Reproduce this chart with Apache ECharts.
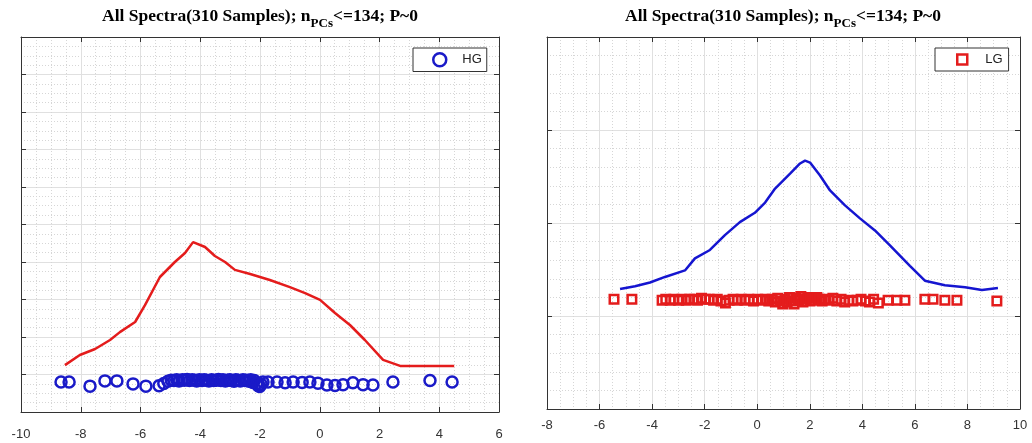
<!DOCTYPE html>
<html>
<head>
<meta charset="utf-8">
<script src="https://cdn.jsdelivr.net/npm/echarts@6/dist/echarts.min.js"></script>
<style>
html,body{margin:0;padding:0;background:#fff;}
#c{width:1032px;height:443px;}
</style>
</head>
<body>
<div id="c"></div>
<script>
// ---------- data ----------
var titleMain = 'All Spectra(310 Samples); n';
var titleSub = 'PCs';
var titleEnd = '<=134; P~0';

var leftXTicks = [-10, -8, -6, -4, -2, 0, 2, 4, 6];
var rightXTicks = [-8, -6, -4, -2, 0, 2, 4, 6, 8, 10];

// left panel: HG samples (circles) and red density curve
var hgX = [-8.66, -8.39, -7.69, -7.19, -6.79, -6.25, -5.82, -5.38, -5.22, -5.08, -4.97, -4.88, -4.79, -4.71, -4.6, -4.53, -4.44, -4.36, -4.27, -4.18, -4.12, -4.03, -3.94, -3.87, -3.79, -3.71, -3.62, -3.55, -3.46, -3.39, -3.31, -3.24, -3.16, -3.09, -3.01, -2.96, -2.87, -2.81, -2.73, -2.66, -2.57, -2.51, -2.44, -2.37, -2.31, -2.24, -2.19, -2.11, -2.06, -2.01, -1.96, -1.9, -1.73, -1.43, -1.16, -0.89, -0.59, -0.33, -0.06, 0.24, 0.51, 0.78, 1.11, 1.45, 1.78, 2.45, 3.69, 4.43];
var hgY = [0.80, 0.80, 0.69, 0.83, 0.83, 0.75, 0.69, 0.70, 0.76, 0.82, 0.85, 0.84, 0.86, 0.83, 0.86, 0.85, 0.87, 0.84, 0.86, 0.85, 0.83, 0.86, 0.84, 0.86, 0.85, 0.83, 0.86, 0.84, 0.85, 0.87, 0.84, 0.86, 0.83, 0.85, 0.86, 0.84, 0.82, 0.86, 0.85, 0.83, 0.86, 0.84, 0.85, 0.82, 0.86, 0.79, 0.84, 0.76, 0.70, 0.68, 0.74, 0.80, 0.80, 0.80, 0.78, 0.80, 0.79, 0.80, 0.77, 0.72, 0.71, 0.73, 0.78, 0.73, 0.72, 0.80, 0.84, 0.80];
var hgCurveX = [-8.53, -8.03, -7.52, -7.02, -6.69, -6.18, -5.85, -5.35, -4.85, -4.51, -4.24, -3.84, -3.51, -3.17, -2.84, -2.33, -1.67, -1.0, -0.49, 0.01, 0.51, 1.01, 1.51, 2.12, 2.69, 4.5];
var hgCurveY = [1.25, 1.52, 1.68, 1.92, 2.13, 2.40, 2.85, 3.60, 4.00, 4.24, 4.53, 4.40, 4.16, 4.00, 3.79, 3.68, 3.52, 3.33, 3.17, 2.99, 2.64, 2.32, 1.92, 1.39, 1.23, 1.23];

// right panel: LG samples (squares) and blue density curve
var lgX = [-5.45, -4.77, -3.62, -3.48, -3.31, -3.17, -2.99, -2.86, -2.7, -2.57, -2.41, -2.27, -2.12, -1.97, -1.83, -1.66, -1.52, -1.38, -1.21, -1.07, -0.92, -0.76, -0.61, -0.47, -0.32, -0.14, 0.02, 0.16, 0.31, 0.44, 0.57, 0.69, 0.78, 0.88, 0.97, 1.06, 1.14, 1.23, 1.31, 1.4, 1.48, 1.57, 1.66, 1.74, 1.83, 1.92, 2.01, 2.09, 2.18, 2.27, 2.36, 2.47, 2.6, 2.74, 2.88, 3.03, 3.19, 3.33, 3.49, 3.64, 3.8, 3.95, 4.12, 4.27, 4.43, 4.61, 4.98, 5.32, 5.62, 6.38, 6.69, 7.14, 7.6, 9.12];
var lgY = [1.18, 1.18, 1.17, 1.18, 1.17, 1.18, 1.17, 1.18, 1.17, 1.18, 1.18, 1.17, 1.19, 1.18, 1.18, 1.17, 1.18, 1.16, 1.14, 1.17, 1.18, 1.17, 1.18, 1.17, 1.18, 1.16, 1.18, 1.17, 1.18, 1.16, 1.18, 1.15, 1.19, 1.16, 1.13, 1.18, 1.15, 1.20, 1.16, 1.13, 1.19, 1.17, 1.21, 1.15, 1.18, 1.20, 1.16, 1.19, 1.17, 1.20, 1.18, 1.16, 1.18, 1.17, 1.19, 1.16, 1.18, 1.15, 1.17, 1.16, 1.17, 1.18, 1.16, 1.15, 1.18, 1.14, 1.17, 1.17, 1.17, 1.18, 1.18, 1.17, 1.17, 1.16];
var lgCurveX = [-5.22, -4.65, -4.08, -3.51, -2.75, -2.37, -1.80, -1.23, -0.66, -0.09, 0.30, 0.68, 1.25, 1.63, 1.82, 2.01, 2.39, 2.77, 3.34, 3.91, 4.48, 5.05, 5.81, 6.38, 7.14, 7.91, 8.55, 9.16];
var lgCurveY = [1.29, 1.32, 1.36, 1.42, 1.49, 1.62, 1.71, 1.87, 2.01, 2.11, 2.22, 2.37, 2.53, 2.64, 2.67, 2.65, 2.51, 2.35, 2.19, 2.05, 1.92, 1.76, 1.54, 1.38, 1.33, 1.31, 1.28, 1.30];

// ---------- build ----------
function pairs(xs, ys) { return xs.map(function (x, i) { return [x, ys[i]]; }); }

var BLUE = '#1a1ac8';
var RED = '#e41c1c';
var FRAME = '#333333';
var labelFont = 'Liberation Sans';

function mainX(grid, ticks, margin) {
  return {
    type: 'value', gridIndex: grid, position: 'bottom',
    min: ticks[0], max: ticks[ticks.length - 1], interval: 2,
    axisLine: { show: true, onZero: false, lineStyle: { color: FRAME, width: 1 } },
    axisTick: { show: true, inside: true, length: 5, lineStyle: { color: FRAME } },
    axisLabel: { show: true, margin: margin, color: '#333', fontSize: 13, fontFamily: labelFont },
    splitLine: { show: true, lineStyle: { color: '#e0e0e0', width: 1 } },
    minorTick: { show: false, splitNumber: 4 },
    minorSplitLine: { show: true, lineStyle: { color: '#d6d6d6', type: [1, 2], width: 1 } }
  };
}
function topX(grid, ticks) {
  return {
    type: 'value', gridIndex: grid, position: 'top',
    min: ticks[0], max: ticks[ticks.length - 1], interval: 2,
    axisLine: { show: true, onZero: false, lineStyle: { color: FRAME, width: 1 } },
    axisTick: { show: true, inside: true, length: 5, lineStyle: { color: FRAME } },
    axisLabel: { show: false }, splitLine: { show: false }
  };
}
function mainY(grid, max, minorN) {
  return {
    type: 'value', gridIndex: grid, position: 'left',
    min: 0, max: max, interval: 1,
    axisLine: { show: true, onZero: false, lineStyle: { color: FRAME, width: 1 } },
    axisTick: { show: true, inside: true, length: 5, lineStyle: { color: FRAME } },
    axisLabel: { show: false },
    splitLine: { show: true, lineStyle: { color: '#e0e0e0', width: 1 } },
    minorTick: { show: false, splitNumber: minorN },
    minorSplitLine: { show: true, lineStyle: { color: '#d6d6d6', type: [1, 2], width: 1 } }
  };
}
function rightY(grid, max) {
  return {
    type: 'value', gridIndex: grid, position: 'right',
    min: 0, max: max, interval: 1,
    axisLine: { show: true, onZero: false, lineStyle: { color: FRAME, width: 1 } },
    axisTick: { show: true, inside: true, length: 5, lineStyle: { color: FRAME } },
    axisLabel: { show: false }, splitLine: { show: false }
  };
}

var titleRich = {
  a: { fontFamily: 'Liberation Serif', fontWeight: 'bold', fontSize: 17.5, color: '#111', lineHeight: 20, verticalAlign: 'top' },
  s: { fontFamily: 'Liberation Serif', fontWeight: 'bold', fontSize: 13, color: '#111', lineHeight: 15, padding: [10, 0, 0, 0], verticalAlign: 'top' }
};
var titleText = '{a|' + titleMain + '}{s|' + titleSub + '}{a|' + titleEnd + '}';

var option = {
  animation: false,
  backgroundColor: '#ffffff',
  grid: [
    { left: 21, top: 37, width: 478, height: 375 },
    { left: 547, top: 37, width: 473, height: 372 }
  ],
  xAxis: [mainX(0, leftXTicks, 16), topX(0, leftXTicks), mainX(1, rightXTicks, 10), topX(1, rightXTicks)],
  yAxis: [mainY(0, 10, 4), rightY(0, 10), mainY(1, 4, 5), rightY(1, 4)],
  graphic: [
    { type: 'text', x: 260, y: 7, style: { text: titleText, rich: titleRich, align: 'center' } },
    { type: 'text', x: 783, y: 7, style: { text: titleText, rich: titleRich, align: 'center' } }
  ],
  legend: [
    {
      left: 413, top: 48, orient: 'vertical',
      backgroundColor: '#fff', borderColor: FRAME, borderWidth: 1, borderRadius: 0,
      padding: [4, 5, 4, 19], itemWidth: 13, itemHeight: 13,
      textStyle: { fontFamily: labelFont, fontSize: 13, color: '#222', padding: [0, 0, 0, 11] },
      data: [{ name: 'HG', icon: 'circle', itemStyle: { color: 'rgba(0,0,0,0)', borderColor: BLUE, borderWidth: 2.5 } }]
    },
    {
      left: 935, top: 48, orient: 'vertical',
      backgroundColor: '#fff', borderColor: FRAME, borderWidth: 1, borderRadius: 0,
      padding: [5, 6, 5, 21], itemWidth: 10, itemHeight: 10,
      textStyle: { fontFamily: labelFont, fontSize: 13, color: '#222', padding: [0, 0, 0, 13] },
      data: [{ name: 'LG', icon: 'rect', itemStyle: { color: 'rgba(0,0,0,0)', borderColor: RED, borderWidth: 2.5 } }]
    }
  ],
  series: [
    {
      name: 'HG curve', type: 'line', xAxisIndex: 0, yAxisIndex: 0,
      data: pairs(hgCurveX, hgCurveY), showSymbol: false, symbol: 'none',
      lineStyle: { color: RED, width: 2.5 }, itemStyle: { color: RED }, z: 3
    },
    {
      name: 'HG', type: 'scatter', xAxisIndex: 0, yAxisIndex: 0,
      data: pairs(hgX, hgY), symbol: 'circle', symbolSize: 11,
      itemStyle: { color: 'rgba(0,0,0,0)', borderColor: BLUE, borderWidth: 2.5, opacity: 1 }, z: 4
    },
    {
      name: 'LG curve', type: 'line', xAxisIndex: 2, yAxisIndex: 2,
      data: pairs(lgCurveX, lgCurveY), showSymbol: false, symbol: 'none',
      lineStyle: { color: '#1515d0', width: 2.5 }, itemStyle: { color: '#1515d0' }, z: 3
    },
    {
      name: 'LG', type: 'scatter', xAxisIndex: 2, yAxisIndex: 2,
      data: pairs(lgX, lgY), symbol: 'rect', symbolSize: 8.5,
      itemStyle: { color: 'rgba(0,0,0,0)', borderColor: RED, borderWidth: 2.5, opacity: 1 }, z: 4
    }
  ]
};

var chart = echarts.init(document.getElementById('c'), null, { renderer: 'canvas' });
chart.setOption(option);
</script>
</body>
</html>
